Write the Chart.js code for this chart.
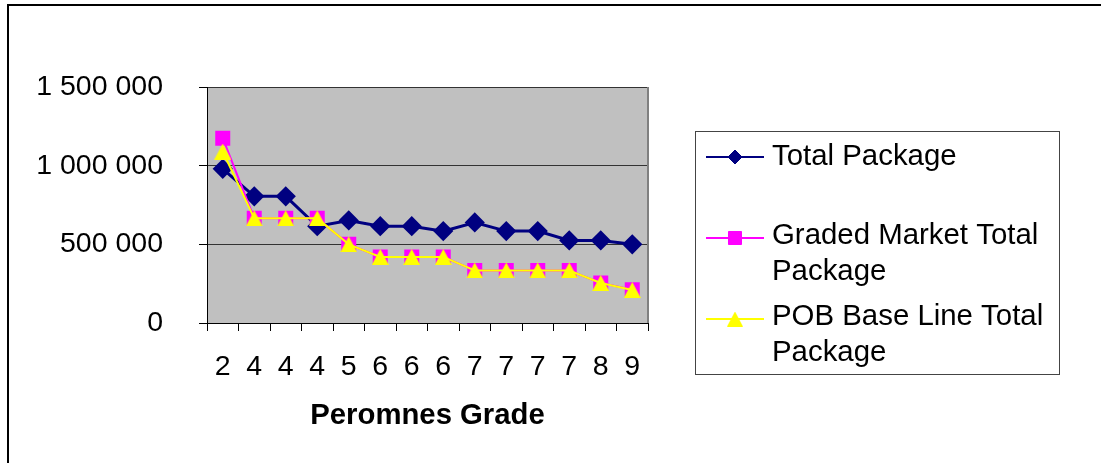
<!DOCTYPE html>
<html>
<head>
<meta charset="utf-8">
<script src="https://cdn.jsdelivr.net/npm/chart.js@4/dist/chart.umd.min.js"></script>
<style>
html,body{margin:0;padding:0;background:#fff;}
#wrap{position:relative;width:1101px;height:463px;}
</style>
</head>
<body>
<div id="wrap"><canvas id="c" width="1101" height="463"></canvas></div>
<script>
const categories = ['2','4','4','4','5','6','6','6','7','7','7','7','8','9'];
const totalPackage = [980000, 805000, 805000, 615000, 652000, 615000, 615000, 584000, 639000, 584000, 584000, 525000, 525000, 500000];
const gradedMarket = [1175000, 665000, 665000, 665000, 500000, 420000, 420000, 420000, 334000, 334000, 334000, 334000, 254000, 212000];
const pobBaseLine = [1090000, 665000, 665000, 665000, 500000, 420000, 420000, 420000, 334000, 334000, 334000, 334000, 254000, 210000];
const seriesLabels = ['Total Package', 'Graded Market Total Package', 'POB Base Line Total Package'];
const legendLines = [['Total Package'], ['Graded Market Total', 'Package'], ['POB Base Line Total', 'Package']];
const xTitle = 'Peromnes Grade';

const FONT = '"Liberation Sans", Arial, sans-serif';

function fmt(v){ return String(v).replace(/\B(?=(\d{3})+(?!\d))/g, ' '); }

function triangleImage(w, h, color){
  const c = document.createElement('canvas');
  c.width = w; c.height = h;
  const g = c.getContext('2d');
  g.fillStyle = color;
  g.beginPath();
  g.moveTo(w / 2, 0);
  g.lineTo(w, h);
  g.lineTo(0, h);
  g.closePath();
  g.fill();
  return c;
}
const triBig = triangleImage(17, 16, '#ffff00');
const triLegend = triangleImage(16, 15, '#ffff00');

const decor = {
  id: 'decor',
  beforeDraw(chart){
    const {ctx, chartArea:a} = chart;
    ctx.save();
    ctx.fillStyle = '#fff';
    ctx.fillRect(0,0,chart.width,chart.height);
    ctx.fillStyle = '#c0c0c0';
    ctx.fillRect(a.left, a.top, a.right - a.left, a.bottom - a.top);
    ctx.restore();
  },
  beforeDatasetsDraw(chart){
    const {ctx, chartArea:a} = chart;
    ctx.save();
    ctx.strokeStyle = '#808080';
    ctx.lineWidth = 2;
    ctx.beginPath();
    ctx.moveTo(a.right, a.top);
    ctx.lineTo(a.right, a.bottom);
    ctx.stroke();
    ctx.restore();
  },
  afterDraw(chart){
    const ctx = chart.ctx;
    ctx.save();
    // outer frame
    ctx.strokeStyle = '#000';
    ctx.lineWidth = 2;
    ctx.beginPath();
    ctx.moveTo(8, 470);
    ctx.lineTo(8, 5);
    ctx.lineTo(1110, 5);
    ctx.stroke();
    // legend box
    ctx.strokeStyle = '#444';
    ctx.lineWidth = 1;
    ctx.strokeRect(695.5, 131.5, 364, 243);
    const lineYs = [157, 238, 319];
    const markR = [7, 9.2, 8];
    const markDy = [0, 0, 0];
    const styles = ['rectRot', 'rect', triLegend];
    const baselines = [[165], [244, 280], [325, 361]];
    chart.data.datasets.forEach((ds, i) => {
      const y = lineYs[i];
      ctx.strokeStyle = ds.borderColor;
      ctx.lineWidth = 2;
      ctx.beginPath();
      ctx.moveTo(706, y);
      ctx.lineTo(764, y);
      ctx.stroke();
      const opts = {pointStyle: styles[i], radius: markR[i], rotation: 0, borderWidth: 1};
      ctx.fillStyle = ds.pointBackgroundColor;
      ctx.strokeStyle = ds.pointBorderColor;
      ctx.lineWidth = 1;
      Chart.helpers.drawPoint(ctx, opts, 735, y + markDy[i]);
      ctx.fillStyle = '#000';
      ctx.font = '29.4px ' + FONT;
      ctx.textAlign = 'left';
      ctx.textBaseline = 'alphabetic';
      legendLines[i].forEach((t, j) => ctx.fillText(t, 772, baselines[i][j]));
    });
    ctx.restore();
  }
};

new Chart(document.getElementById('c'), {
  type: 'line',
  data: {
    labels: categories,
    datasets: [
      {label: seriesLabels[0], data: totalPackage, order: 3, borderColor: '#000080', backgroundColor: '#000080',
       pointBackgroundColor: '#000080', pointBorderColor: '#000080', pointStyle: 'rectRot', pointRadius: 8, borderWidth: 3, tension: 0},
      {label: seriesLabels[1], data: gradedMarket, order: 2, borderColor: '#ff00ff', backgroundColor: '#ff00ff',
       pointBackgroundColor: '#ff00ff', pointBorderColor: '#ff00ff', pointStyle: 'rect', pointRadius: 9.2, borderWidth: 2, tension: 0},
      {label: seriesLabels[2], data: pobBaseLine, order: 1, borderColor: '#ffff00', backgroundColor: '#ffff00',
       pointBackgroundColor: '#ffff00', pointBorderColor: '#ffff00', pointStyle: triBig, pointRadius: 9, borderWidth: 2, tension: 0}
    ]
  },
  options: {
    responsive: false,
    animation: false,
    devicePixelRatio: 1,
    layout: {padding: {left: 0, top: 87, right: 453, bottom: 0}},
    plugins: {legend: {display: false}, tooltip: {enabled: false}, title: {display: false}},
    scales: {
      x: {
        type: 'category',
        offset: true,
        grid: {display: true, drawOnChartArea: false, drawTicks: true, tickLength: 8, color: '#000', offset: true},
        border: {display: true, color: '#000', width: 1},
        ticks: {color: '#000', font: {family: FONT, size: 28.5}, padding: 19, maxRotation: 0, autoSkip: false},
        title: {display: true, text: xTitle, color: '#000', font: {family: FONT, size: 29.3, weight: 'bold'}, padding: {top: 0, bottom: 30}},
        afterFit(s){ s.height = 140; }
      },
      y: {
        min: 0, max: 1500000,
        grid: {display: true, drawOnChartArea: true, drawTicks: true, tickLength: 8, color: '#333', tickColor: '#000'},
        border: {display: true, color: '#000', width: 1},
        ticks: {stepSize: 500000, color: '#000', font: {family: FONT, size: 28.5}, padding: 36, callback: v => fmt(v)},
        afterFit(s){ s.width = 207; }
      }
    }
  },
  plugins: [decor]
});
</script>
</body>
</html>
